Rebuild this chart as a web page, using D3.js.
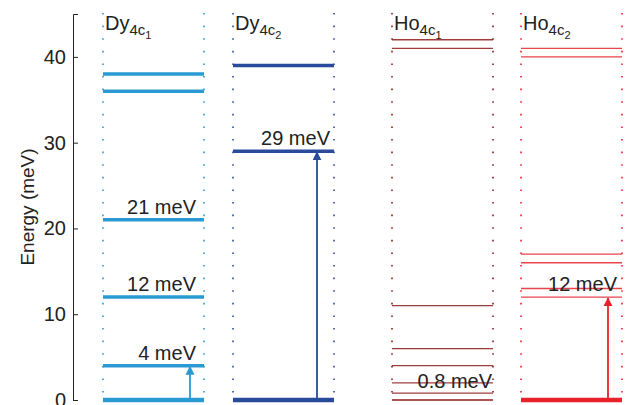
<!DOCTYPE html>
<html><head><meta charset="utf-8">
<script src="https://cdn.jsdelivr.net/npm/d3@7"></script>
<style>body{margin:0;background:#fff}text{font-family:"Liberation Sans",Arial,sans-serif}</style>
</head><body><div id="chart"></div>
<script>
var panels = ["Dy", "Dy", "Ho", "Ho"];
var subs = ["4c1", "4c2", "4c1", "4c2"];
var colors = ["#2a9ad4", "#2a4a9c", "#8e1b1b", "#e8222a"];
var levels = [[0, 4, 12, 21, 36, 38], [0, 29, 39], [0, 0.8, 2, 4, 6, 11, 41, 42], [0, 12, 13, 16, 17, 40, 41]];
var transitions = [4, 29, null, 12];
var labelAt = [[4, 12, 21], [29], [0.8], [12]];
var ticks = [0, 10, 20, 30, 40];

var svg = d3.select("#chart").append("svg").attr("width", 637).attr("height", 405);
var y = d3.scaleLinear().domain([0, 45]).range([400, 14]);
var xs = [103, 233, 392, 521], w = 101;

var ax = svg.append("g").attr("transform", "translate(73,0)")
  .call(d3.axisRight(y).tickValues(ticks).tickSize(5).tickSizeOuter(5).tickFormat(""));
ax.select(".domain").attr("stroke", "#222");
ax.selectAll(".tick line").attr("stroke", "#222");
svg.selectAll(".yl").data(ticks).enter().append("text")
  .attr("x", 66).attr("y", function(d){return y(d) + 7;}).attr("text-anchor", "end")
  .attr("font-size", 20).attr("fill", "#222").text(function(d){return d;});
svg.append("text").attr("transform", "translate(34,207) rotate(-90)").attr("text-anchor", "middle")
  .attr("font-size", 19).attr("fill", "#222").text("Energy (meV)");

svg.append("defs").selectAll("marker").data(colors).enter().append("marker")
  .attr("id", function(d, i){return "ar" + i;}).attr("viewBox", "0 0 10 10").attr("refX", 9).attr("refY", 5)
  .attr("markerWidth", 5).attr("markerHeight", 6).attr("orient", "auto")
  .append("path").attr("d", "M0,0L10,5L0,10z").attr("fill", function(d){return d;});

var labelEnd = [196, 330, 492, 617];
panels.forEach(function(p, i) {
  var g = svg.append("g"), x0 = xs[i], x1 = x0 + w, c = colors[i];
  [x0, x1].forEach(function(xx){
    g.append("line").attr("x1", xx).attr("x2", xx).attr("y1", 13).attr("y2", 400)
      .attr("stroke", c).attr("stroke-width", 1.6).attr("stroke-dasharray", "1.6,11");
  });
  var thick = i < 2 ? 3.5 : 1.3;
  g.selectAll("line.lv").data(levels[i]).enter().append("line")
    .attr("x1", x0).attr("x2", x1).attr("y1", function(d){return y(d);}).attr("y2", function(d){return y(d);})
    .attr("stroke", c).attr("stroke-opacity", function(d){return i >= 2 && d !== 0 ? 0.85 : 1;})
    .attr("stroke-width", function(d){return d === 0 ? (i === 2 ? 1.5 : 4.5) : thick;});
  if (transitions[i] !== null) {
    var ax2 = i === 1 ? x0 + 84 : x0 + 87;
    g.append("line").attr("x1", ax2).attr("x2", ax2).attr("y1", y(0)).attr("y2", y(transitions[i]) + 1)
      .attr("stroke", c).attr("stroke-width", 1.8).attr("marker-end", "url(#ar" + i + ")");
  }
  labelAt[i].forEach(function(v) {
    g.append("text").attr("x", labelEnd[i]).attr("y", i === 2 ? y(v) - 5 : y(v) - 6).attr("text-anchor", "end")
      .attr("font-size", 20).attr("fill", "#222")
      .text(v + " meV");
  });
  var t = g.append("text").attr("x", x0 + 2).attr("y", 30).attr("font-size", 20).attr("fill", "#222");
  t.append("tspan").text(p);
  t.append("tspan").attr("dy", 5).attr("font-size", 15).text(subs[i].slice(0, 2));
  t.append("tspan").attr("dy", 4).attr("font-size", 11).text(subs[i].slice(2));
});
</script></body></html>
